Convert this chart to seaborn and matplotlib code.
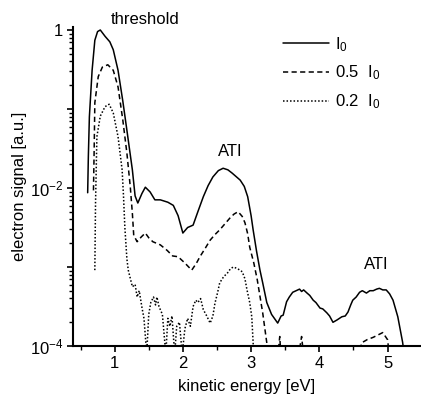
import numpy as np
import pandas as pd
import matplotlib
matplotlib.use("Agg")
import matplotlib.pyplot as plt
import matplotlib.ticker as mticker
import seaborn as sns

# =============================
# DATA (signal stored as log10 values)
# =============================
i0_energy = [0.605, 0.615, 0.63, 0.67, 0.71, 0.75, 0.79, 0.86, 0.93, 0.98, 1.05, 1.12,
             1.18, 1.26, 1.30, 1.34, 1.40, 1.45, 1.52, 1.59, 1.67, 1.78, 1.86, 1.93,
             2.00, 2.07, 2.15, 2.22, 2.30, 2.37, 2.44, 2.52, 2.59, 2.66, 2.72, 2.84,
             2.90, 2.95, 3.00, 3.03, 3.08, 3.13, 3.17, 3.23, 3.30, 3.39, 3.44, 3.47,
             3.52, 3.56, 3.61, 3.66, 3.71, 3.74, 3.77, 3.82, 3.86, 3.91, 3.95, 4.01,
             4.05, 4.11, 4.15, 4.20, 4.26, 4.33, 4.38, 4.42, 4.46, 4.49, 4.54, 4.59,
             4.63, 4.69, 4.74, 4.79, 4.84, 4.88, 4.93, 4.98, 5.03, 5.08, 5.15, 5.22, 5.26]
i0_log = [-2.06, -1.60, -1.10, -0.51, -0.13, -0.02, 0.00, -0.08, -0.15, -0.25, -0.51, -0.90,
          -1.27, -1.77, -2.10, -2.19, -2.07, -1.99, -2.05, -2.15, -2.15, -2.18, -2.22, -2.35,
          -2.57, -2.50, -2.47, -2.30, -2.11, -1.97, -1.86, -1.78, -1.75, -1.77, -1.81, -1.90,
          -1.98, -2.11, -2.35, -2.53, -2.80, -3.04, -3.20, -3.45, -3.60, -3.71, -3.62, -3.61,
          -3.44, -3.38, -3.32, -3.30, -3.28, -3.31, -3.29, -3.33, -3.36, -3.42, -3.45, -3.52,
          -3.53, -3.58, -3.62, -3.70, -3.67, -3.63, -3.62, -3.57, -3.48, -3.42, -3.38, -3.32,
          -3.30, -3.33, -3.30, -3.30, -3.28, -3.27, -3.29, -3.29, -3.34, -3.42, -3.63, -3.95, -4.20]

half_energy = [0.69, 0.70, 0.71, 0.76, 0.82, 0.90, 0.98, 1.05, 1.12, 1.18, 1.23, 1.26,
               1.28, 1.33, 1.39, 1.45, 1.50, 1.56, 1.67, 1.77, 1.85, 1.93, 2.03, 2.13,
               2.20, 2.25, 2.33, 2.40, 2.47, 2.54, 2.62, 2.69, 2.75, 2.81, 2.87, 2.91,
               2.95, 2.98, 3.04, 3.09, 3.13, 3.17, 3.23, 3.26, 3.35, 3.40, 3.42, 3.45,
               3.60, 3.70, 3.74, 3.78, 4.50, 4.62, 4.70, 4.79, 4.86, 4.93, 5.00, 5.05]
half_log = [-2.03, -1.52, -0.92, -0.59, -0.47, -0.44, -0.51, -0.72, -1.14, -1.56, -1.99, -2.32,
            -2.60, -2.68, -2.62, -2.57, -2.63, -2.68, -2.72, -2.79, -2.86, -2.87, -2.95, -3.04,
            -2.95, -2.87, -2.76, -2.66, -2.59, -2.53, -2.45, -2.38, -2.33, -2.30, -2.36, -2.44,
            -2.58, -2.75, -2.95, -3.16, -3.37, -3.58, -3.96, -4.30, -4.50, -4.05, -3.88, -4.30,
            -4.50, -4.10, -3.88, -4.20, -4.50, -3.96, -3.92, -3.89, -3.86, -3.83, -3.92, -4.30]

fifth_energy = [0.71, 0.72, 0.74, 0.79, 0.86, 0.92, 0.98, 1.05, 1.11, 1.13, 1.15, 1.18,
                1.20, 1.26, 1.30, 1.33, 1.36, 1.40, 1.43, 1.47, 1.50, 1.53, 1.57, 1.60,
                1.62, 1.65, 1.70, 1.75, 1.78, 1.81, 1.84, 1.88, 1.91, 1.95, 1.99, 2.03,
                2.07, 2.11, 2.15, 2.19, 2.22, 2.26, 2.30, 2.35, 2.40, 2.44, 2.47, 2.51,
                2.54, 2.60, 2.65, 2.70, 2.74, 2.80, 2.87, 2.91, 2.94, 2.98, 3.01, 3.03, 3.05]
fifth_log = [-3.04, -2.20, -1.35, -1.09, -0.97, -0.94, -1.05, -1.35, -1.77, -2.10, -2.50, -2.90,
             -3.04, -3.25, -3.22, -3.38, -3.30, -3.51, -3.65, -4.10, -3.60, -3.45, -3.38, -3.48,
             -3.38, -3.50, -3.60, -4.10, -3.65, -3.75, -3.62, -4.10, -3.75, -3.70, -4.10, -3.78,
             -3.65, -3.75, -3.50, -3.42, -3.45, -3.40, -3.54, -3.62, -3.71, -3.62, -3.46, -3.32,
             -3.20, -3.12, -3.08, -3.02, -3.00, -3.02, -3.06, -3.15, -3.29, -3.45, -3.63, -3.96, -4.30]

series_labels = ["I$_0$", "0.5  I$_0$", "0.2  I$_0$"]
series_styles = ["-", (0, (3.4, 2.2)), (0, (1.0, 1.3))]
annotations = [("threshold", 1.45, 10 ** 0.127), ("ATI", 2.69, 10 ** -1.54), ("ATI", 4.84, 10 ** -2.97)]


def make_frame(energy, logs):
    return pd.DataFrame({"energy": energy, "signal": 10.0 ** np.array(logs)})


# =============================
# Plot
# =============================
sns.set_style("ticks", {"text.color": "black", "axes.labelcolor": "black",
                        "xtick.color": "black", "ytick.color": "black",
                        "axes.edgecolor": "black"})
plt.rcParams["font.family"] = ["Liberation Sans", "DejaVu Sans"]
plt.rcParams["mathtext.fontset"] = "custom"
plt.rcParams["mathtext.rm"] = "Liberation Sans"
plt.rcParams["mathtext.it"] = "Liberation Sans:italic"
plt.rcParams["mathtext.default"] = "regular"

fig = plt.figure(figsize=(4.21, 4.03), dpi=100)
ax = fig.add_axes([73 / 421, 1 - 346 / 403, 348 / 421, 319 / 403])

frames = [make_frame(i0_energy, i0_log),
          make_frame(half_energy, half_log),
          make_frame(fifth_energy, fifth_log)]

for df, lab, ls in zip(frames, series_labels, series_styles):
    sns.lineplot(data=df, x="energy", y="signal", ax=ax, color="black",
                 linewidth=1.1, linestyle=ls, label=lab, sort=False, estimator=None)

ax.set_yscale("log")
ax.set_xlim(0.39, 5.49)
ax.set_ylim(1e-4, 10 ** 0.038)

ax.xaxis.set_major_locator(mticker.MultipleLocator(1))
ax.xaxis.set_minor_locator(mticker.MultipleLocator(0.5))
ax.yaxis.set_major_locator(mticker.LogLocator(base=10, numticks=10))
ax.yaxis.set_minor_locator(mticker.LogLocator(base=10, subs=np.arange(2, 10), numticks=10))


def ylab(v, pos):
    e = int(round(np.log10(v)))
    if e == 0:
        return "1"
    if e % 2 == 0:
        return r"$10^{%d}$" % e
    return ""


ax.yaxis.set_major_formatter(mticker.FuncFormatter(ylab))
ax.yaxis.set_minor_formatter(mticker.NullFormatter())

sns.despine(ax=ax)
for side in ("left", "bottom"):
    ax.spines[side].set_linewidth(1.5)
ax.tick_params(axis="both", which="major", length=4, width=1.2, labelsize=12, pad=3,
               colors="black")
ax.tick_params(axis="both", which="minor", length=3, width=1.0, colors="black")

ax.set_xlabel("kinetic energy [eV]", fontsize=12, labelpad=6, color="black")
ax.set_ylabel("electron signal [a.u.]", fontsize=12, labelpad=2, color="black")

for txt, x, y in annotations:
    ax.text(x, y, txt, ha="center", va="center", fontsize=12, color="black", clip_on=False)

leg = ax.legend(loc="upper left", bbox_to_anchor=(0.603, 0.975), frameon=False,
                borderpad=0, borderaxespad=0, handlelength=2.75, handletextpad=0.4,
                labelspacing=0.6, fontsize=12)
for t in leg.get_texts():
    t.set_color("black")

fig.savefig("out.png", dpi=100)
